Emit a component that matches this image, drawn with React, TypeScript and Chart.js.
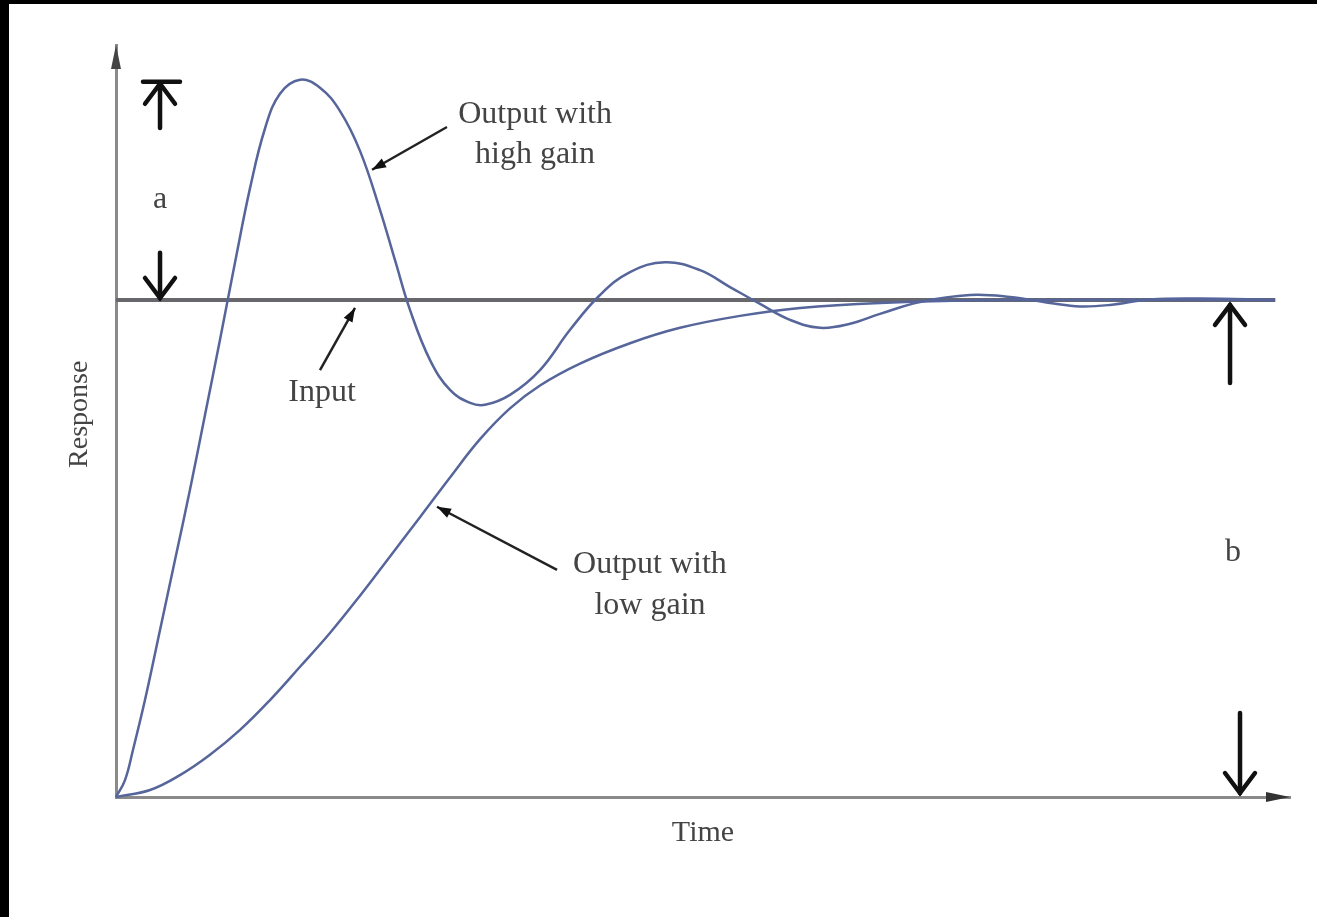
import React, { useEffect, useRef } from "react";
import { Chart, registerables } from "chart.js";

Chart.register(...registerables);

// ---- data (time units 0..12, response: input step = 1) ----
const highGainTime = [0, 0.092, 0.174, 0.296, 0.45, 0.603, 0.756, 0.91, 1.063, 1.216, 1.37, 1.523, 1.676, 1.881, 2.085, 2.29, 2.494, 2.699, 2.852, 3.005, 3.21, 3.414, 3.619, 3.772, 4.027, 4.334, 4.641, 4.947, 5.254, 5.612, 5.97, 6.276, 6.583, 6.889, 7.196, 7.503, 7.809, 8.218, 8.73, 9.138, 9.547, 9.854, 10.161, 10.569, 11.08, 11.847];
const highGainResponse = [0, 0.034, 0.095, 0.195, 0.336, 0.477, 0.618, 0.769, 0.92, 1.075, 1.225, 1.345, 1.415, 1.443, 1.427, 1.38, 1.3, 1.181, 1.08, 0.98, 0.879, 0.819, 0.793, 0.789, 0.809, 0.859, 0.94, 1.01, 1.056, 1.076, 1.06, 1.026, 0.992, 0.96, 0.944, 0.952, 0.972, 0.996, 1.01, 1.006, 0.994, 0.987, 0.99, 1.001, 1.003, 1.0];

const lowGainTime = [0, 0.348, 0.654, 0.961, 1.268, 1.574, 1.881, 2.187, 2.494, 2.801, 3.107, 3.414, 3.721, 4.027, 4.334, 4.743, 5.254, 5.765, 6.378, 6.992, 7.809, 9.036, 11.847];
const lowGainResponse = [0, 0.014, 0.044, 0.085, 0.135, 0.195, 0.262, 0.33, 0.405, 0.484, 0.563, 0.643, 0.72, 0.782, 0.828, 0.872, 0.913, 0.944, 0.968, 0.984, 0.994, 1.0, 1.0];

const inputTime = [0, 11.85];
const inputResponse = [1, 1];

const xMin = 0;
const xMax = 12;
const yMin = 0;
const yMax = 1.513;

const xTitle = "Time";
const yTitle = "Response";

// annotation texts and their anchor positions (data units)
const labelTexts = ["Output with", "high gain", "Input", "Output with", "low gain", "a", "b", "Response"];
const labelTime = [4.283, 4.283, 2.106, 5.458, 5.458, 0.45, 11.417];
const labelResponse = [1.372, 1.292, 0.813, 0.467, 0.386, 1.201, 0.491];

// leader arrows: from (text side) -> to (curve side)
const leaderFromTime = [3.383, 2.085, 4.508];
const leaderFromResponse = [1.348, 0.859, 0.457];
const leaderToTime = [2.617, 2.443, 3.281];
const leaderToResponse = [1.262, 0.984, 0.584];

// dimension arrows a / b
const dimArrowTime = [0.45, 0.45, 11.387, 11.489];
const dimArrowFrom = [1.346, 1.095, 0.833, 0.169];
const dimArrowTo = [1.435, 1.004, 0.99, 0.008];
const barTimeStart = 0.276;
const barTimeEnd = 0.654;
const barResponse = 1.439;
const yTitleResponse = 0.77;

const toPoints = (xs: number[], ys: number[]) => xs.map((v, i) => ({ x: v, y: ys[i] }));

function drawHead(ctx: CanvasRenderingContext2D, x1: number, y1: number, x2: number, y2: number, len: number, half: number, filled: boolean) {
  const a = Math.atan2(y2 - y1, x2 - x1);
  const bx = x2 - len * Math.cos(a);
  const by = y2 - len * Math.sin(a);
  const px = -Math.sin(a) * half;
  const py = Math.cos(a) * half;
  ctx.beginPath();
  ctx.moveTo(bx + px, by + py);
  ctx.lineTo(x2, y2);
  ctx.lineTo(bx - px, by - py);
  if (filled) {
    ctx.closePath();
    ctx.fill();
  } else {
    ctx.stroke();
  }
}

const annotatePlugin = {
  id: "annotate",
  afterDraw(chart: any) {
    const { ctx, chartArea: ca } = chart;
    const xs = chart.scales.x;
    const ys = chart.scales.y;
    const X = (t: number) => xs.getPixelForValue(t);
    const Y = (r: number) => ys.getPixelForValue(r);
    ctx.save();

    // axis arrow heads
    ctx.fillStyle = "#444";
    ctx.beginPath();
    ctx.moveTo(ca.left, ca.top);
    ctx.lineTo(ca.left - 5, ca.top + 24);
    ctx.lineTo(ca.left + 5, ca.top + 24);
    ctx.closePath();
    ctx.fill();
    ctx.fillStyle = "#333";
    ctx.beginPath();
    ctx.moveTo(ca.right, ca.bottom);
    ctx.lineTo(ca.right - 24, ca.bottom - 5);
    ctx.lineTo(ca.right - 24, ca.bottom + 5);
    ctx.closePath();
    ctx.fill();

    // texts
    ctx.fillStyle = "#444";
    ctx.font = '32px "Liberation Serif", "DejaVu Serif", serif';
    ctx.textAlign = "center";
    ctx.textBaseline = "middle";
    labelTexts.slice(0, 7).forEach((t, i) => {
      ctx.fillText(t, X(labelTime[i]), Y(labelResponse[i]));
    });

    // y axis title
    ctx.save();
    ctx.font = '28px "Liberation Serif", "DejaVu Serif", serif';
    ctx.translate(ca.left - 36, Y(yTitleResponse));
    ctx.rotate(-Math.PI / 2);
    ctx.fillText(yTitle, 0, 0);
    ctx.restore();

    // leader lines
    ctx.strokeStyle = "#222";
    ctx.fillStyle = "#111";
    ctx.lineWidth = 2.5;
    leaderFromTime.forEach((_, i) => {
      const x1 = X(leaderFromTime[i]);
      const y1 = Y(leaderFromResponse[i]);
      const x2 = X(leaderToTime[i]);
      const y2 = Y(leaderToResponse[i]);
      ctx.beginPath();
      ctx.moveTo(x1, y1);
      ctx.lineTo(x2, y2);
      ctx.stroke();
      drawHead(ctx, x1, y1, x2, y2, 14, 5, true);
    });

    // dimension arrows
    ctx.strokeStyle = "#111";
    ctx.lineWidth = 4.5;
    ctx.lineCap = "round";
    dimArrowTime.forEach((t, i) => {
      const x = X(t);
      const y1 = Y(dimArrowFrom[i]);
      const y2 = Y(dimArrowTo[i]);
      ctx.beginPath();
      ctx.moveTo(x, y1);
      ctx.lineTo(x, y2);
      ctx.stroke();
      drawHead(ctx, x, y1, x, y2, 20, 15, false);
    });
    ctx.beginPath();
    ctx.moveTo(X(barTimeStart), Y(barResponse));
    ctx.lineTo(X(barTimeEnd), Y(barResponse));
    ctx.stroke();

    ctx.restore();
  },
};

export default function App() {
  const ref = useRef<HTMLCanvasElement | null>(null);

  useEffect(() => {
    if (!ref.current) return;
    const curveColor = "#56659a";
    const chart = new Chart(ref.current, {
      type: "scatter",
      data: {
        datasets: [
          {
            label: "Input",
            data: toPoints(inputTime, inputResponse),
            showLine: true,
            borderColor: "#67676c",
            borderWidth: 4,
            pointRadius: 0,
            order: 3,
          },
          {
            label: "Output with low gain",
            data: toPoints(lowGainTime, lowGainResponse),
            showLine: true,
            borderColor: curveColor,
            borderWidth: 2.5,
            pointRadius: 0,
            tension: 0.4,
            order: 2,
          },
          {
            label: "Output with high gain",
            data: toPoints(highGainTime, highGainResponse),
            showLine: true,
            borderColor: curveColor,
            borderWidth: 2.5,
            pointRadius: 0,
            tension: 0.4,
            order: 1,
          },
        ],
      },
      options: {
        animation: false,
        responsive: false,
        devicePixelRatio: 1,
        clip: false,
        layout: { padding: { left: 0, top: 41, right: 27, bottom: 0 } },
        plugins: { legend: { display: false }, tooltip: { enabled: false } },
        scales: {
          x: {
            type: "linear",
            min: xMin,
            max: xMax,
            ticks: { display: false },
            grid: { display: false },
            border: { display: true, color: "#8a8a8a", width: 3 },
            title: {
              display: true,
              text: xTitle,
              color: "#444",
              font: { family: '"Liberation Serif", serif', size: 30 },
              padding: { top: 0, bottom: 66 },
            },
            afterFit: (s: any) => {
              s.height = 120;
            },
          },
          y: {
            type: "linear",
            min: yMin,
            max: yMax,
            ticks: { display: false },
            grid: { display: false },
            border: { display: true, color: "#8a8a8a", width: 3 },
            title: { display: false, text: yTitle },
            afterFit: (s: any) => {
              s.width = 107;
            },
          },
        },
      } as any,
      plugins: [annotatePlugin],
    });
    return () => chart.destroy();
  }, []);

  return (
    <div style={{ position: "fixed", left: 0, top: 0, width: 1317, height: 917, background: "#000", overflow: "hidden" }}>
      <canvas
        ref={ref}
        width={1308}
        height={913}
        style={{ position: "absolute", left: 9, top: 4, width: 1308, height: 913, background: "#fff" }}
      />
    </div>
  );
}
